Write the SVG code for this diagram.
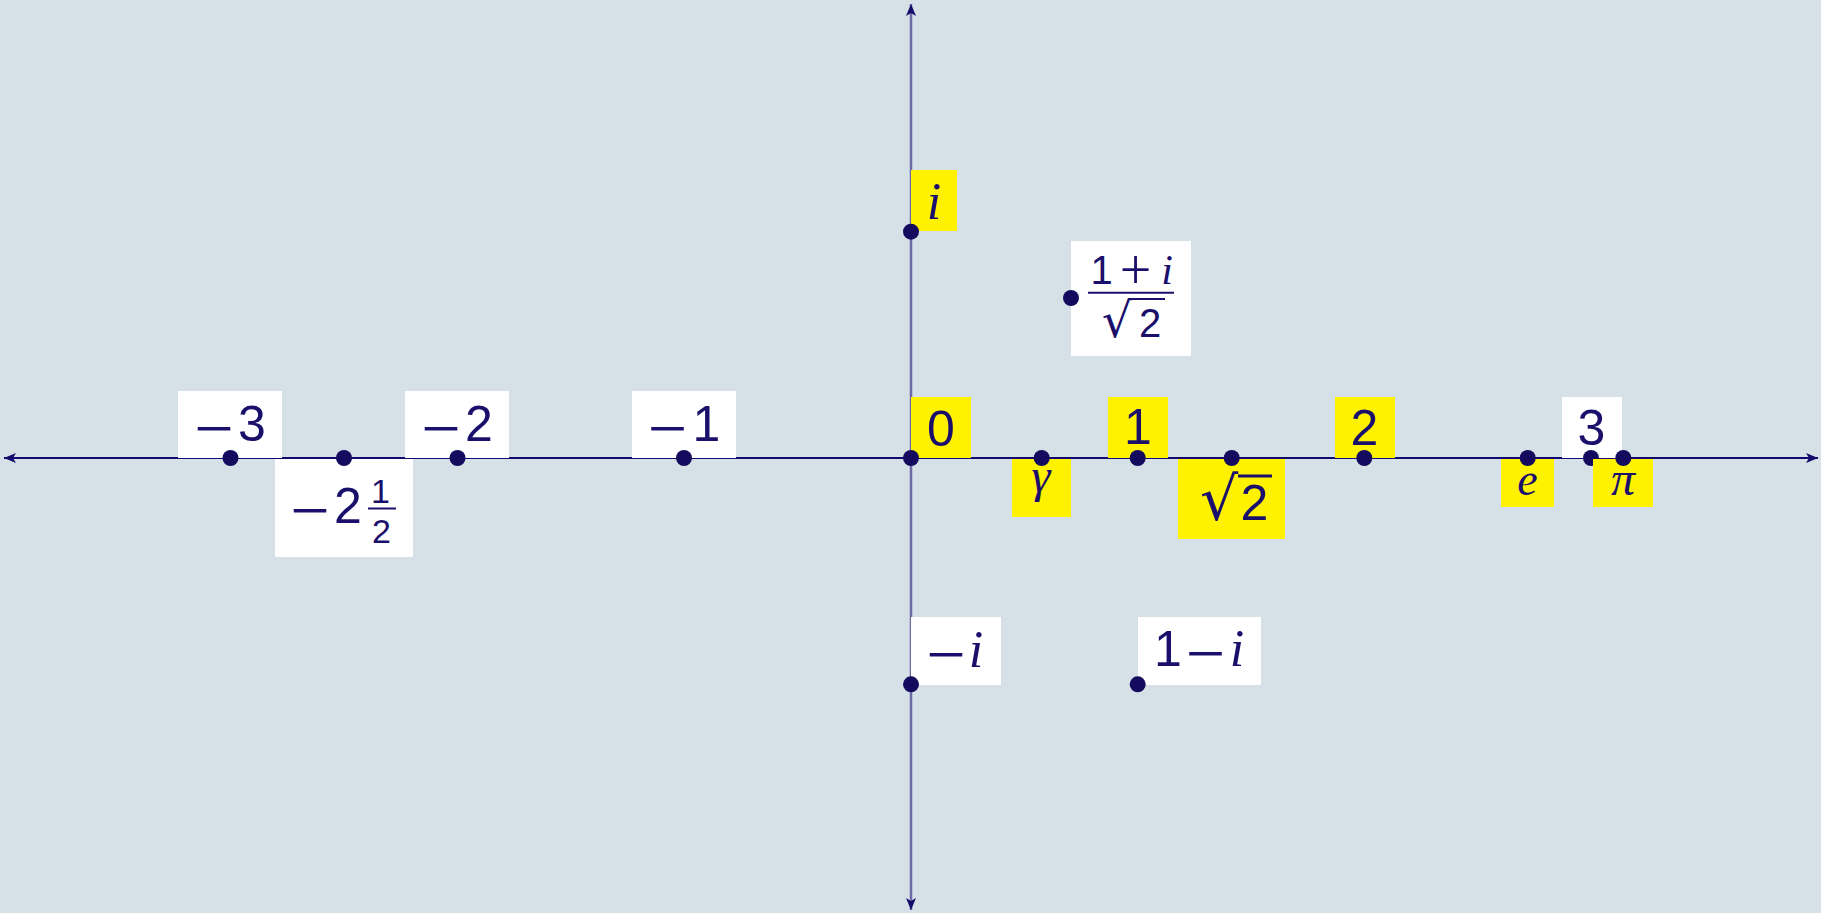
<svg xmlns="http://www.w3.org/2000/svg" width="1821" height="913" viewBox="0 0 1821 913">
<defs>
<style>
.bg{fill:#d6e1e7}
.yb{fill:#fff200}
.wb{fill:#ffffff}
.dot{fill:#140b5e}
.t{font-family:"Liberation Sans",Arial,sans-serif;font-size:50px;fill:#1a0f6b;text-anchor:middle}
.m{font-family:"Liberation Serif","Times New Roman",serif;font-size:70px}
.r{font-family:"DejaVu Sans",sans-serif}
.v{font-family:"Liberation Serif","Times New Roman",serif;font-style:italic}
.s{font-size:34px}
.f{font-size:40px}
.bar{stroke:#1a0f6b;stroke-width:2}
.ax{stroke:#120a70;stroke-width:2;fill:none}
.ay{stroke:#6c6aa6;stroke-width:2.5;fill:none}
</style>
<marker id="ah" viewBox="0 0 12 10" refX="12" refY="5" markerWidth="12" markerHeight="10" markerUnits="userSpaceOnUse" orient="auto-start-reverse">
<path d="M0,0 L12,5 L0,10 L3,5 Z" fill="#140a6b"/>
</marker>
</defs>
<rect class="bg" x="0" y="0" width="1821" height="913"/>
<g id="connectors">
<line class="ax" x1="4" y1="458" x2="1818" y2="458" marker-start="url(#ah)" marker-end="url(#ah)"/>
<line class="ay" x1="911" y1="4" x2="911" y2="910" marker-start="url(#ah)" marker-end="url(#ah)"/>
</g>
<g id="n-3">
<rect class="wb" x="178" y="391" width="104" height="67"/>
<text class="t"><tspan class="m" x="214" y="452">−</tspan><tspan x="252" y="441">3</tspan></text>
<circle class="dot" cx="230.5" cy="458" r="8"/>
</g>
<g id="n-2half">
<rect class="wb" x="275" y="459" width="138" height="98"/>
<text class="t"><tspan class="m" x="310" y="533.5">−</tspan><tspan x="348" y="522.5">2</tspan></text>
<text class="t s" x="380.5" y="502.5">1</text>
<line class="bar" x1="368" y1="508.5" x2="396" y2="508.5"/>
<text class="t s" x="381.5" y="543.3">2</text>
<circle class="dot" cx="344" cy="458" r="8"/>
</g>
<g id="n-2">
<rect class="wb" x="405" y="391" width="104" height="67"/>
<text class="t"><tspan class="m" x="441" y="452">−</tspan><tspan x="479" y="441">2</tspan></text>
<circle class="dot" cx="457.5" cy="458" r="8"/>
</g>
<g id="n-1">
<rect class="wb" x="632" y="391" width="104" height="67"/>
<text class="t"><tspan class="m" x="667.5" y="451.5">−</tspan><tspan x="706.5" y="440.5">1</tspan></text>
<circle class="dot" cx="684" cy="458" r="8"/>
</g>
<g id="n0">
<rect class="yb" x="911" y="397" width="60" height="61"/>
<text class="t" x="941" y="445.7">0</text>
<circle class="dot" cx="911" cy="458" r="8"/>
</g>
<g id="ngamma">
<rect class="yb" x="1012" y="459" width="59" height="58"/>
<text class="t v" x="1041" y="492" style="font-size:48px">γ</text>
<circle class="dot" cx="1041.7" cy="458" r="8"/>
</g>
<g id="n1">
<rect class="yb" x="1108" y="397" width="60" height="61"/>
<text class="t" x="1138" y="444">1</text>
<circle class="dot" cx="1137.7" cy="458" r="8"/>
</g>
<g id="nsqrt2">
<rect class="yb" x="1178" y="459" width="107" height="80"/>
<text class="t" y="520"><tspan class="r" x="1219" style="font-size:60px">√</tspan><tspan x="1254.5">2</tspan></text>
<line class="bar" x1="1238" y1="476" x2="1272" y2="476" style="stroke-width:3"/>
<circle class="dot" cx="1231.7" cy="458" r="8"/>
</g>
<g id="n2">
<rect class="yb" x="1335" y="397" width="60" height="61"/>
<text class="t" x="1364.5" y="445">2</text>
<circle class="dot" cx="1364.3" cy="458" r="8"/>
</g>
<g id="ne">
<rect class="yb" x="1501" y="459" width="53" height="48"/>
<text class="t v" x="1527.5" y="495" style="font-size:46px">e</text>
<circle class="dot" cx="1527.7" cy="458" r="8"/>
</g>
<g id="n3">
<rect class="wb" x="1562" y="397" width="60" height="61"/>
<text class="t" x="1591.5" y="445">3</text>
<circle class="dot" cx="1591" cy="458" r="8"/>
</g>
<g id="npi">
<rect class="yb" x="1593" y="459" width="60" height="48"/>
<text class="t v" x="1623" y="495" style="font-size:48px">π</text>
<circle class="dot" cx="1623.3" cy="458" r="8"/>
</g>
<g id="ni">
<rect class="yb" x="911" y="170" width="46" height="61"/>
<text class="t v" x="934" y="219" style="font-size:52px">i</text>
<circle class="dot" cx="911" cy="231.7" r="8"/>
</g>
<g id="nfrac">
<rect class="wb" x="1071" y="241" width="120" height="115"/>
<text class="t f"><tspan x="1101.5" y="284">1</tspan><tspan class="m" x="1135.5" y="289" style="font-size:56px">+</tspan><tspan class="v" x="1167" y="284" style="font-size:42px">i</tspan><tspan class="r" x="1117" y="336.7" style="font-size:48px">√</tspan><tspan x="1150" y="336.7">2</tspan></text>
<line class="bar" x1="1088" y1="292.7" x2="1174" y2="292.7"/>
<line class="bar" x1="1131" y1="299" x2="1165" y2="299"/>
<circle class="dot" cx="1071" cy="298" r="8"/>
</g>
<g id="nminusi">
<rect class="wb" x="911" y="617" width="90" height="68"/>
<text class="t"><tspan class="m" x="946" y="678">−</tspan><tspan class="v" x="976" y="667" style="font-size:52px">i</tspan></text>
<circle class="dot" cx="911" cy="684.3" r="8"/>
</g>
<g id="n1minusi">
<rect class="wb" x="1138" y="617" width="123" height="68"/>
<text class="t"><tspan x="1168" y="666">1</tspan><tspan class="m" x="1205.5" y="677">−</tspan><tspan class="v" x="1237" y="666" style="font-size:52px">i</tspan></text>
<circle class="dot" cx="1137.7" cy="684.3" r="8"/>
</g>
</svg>
